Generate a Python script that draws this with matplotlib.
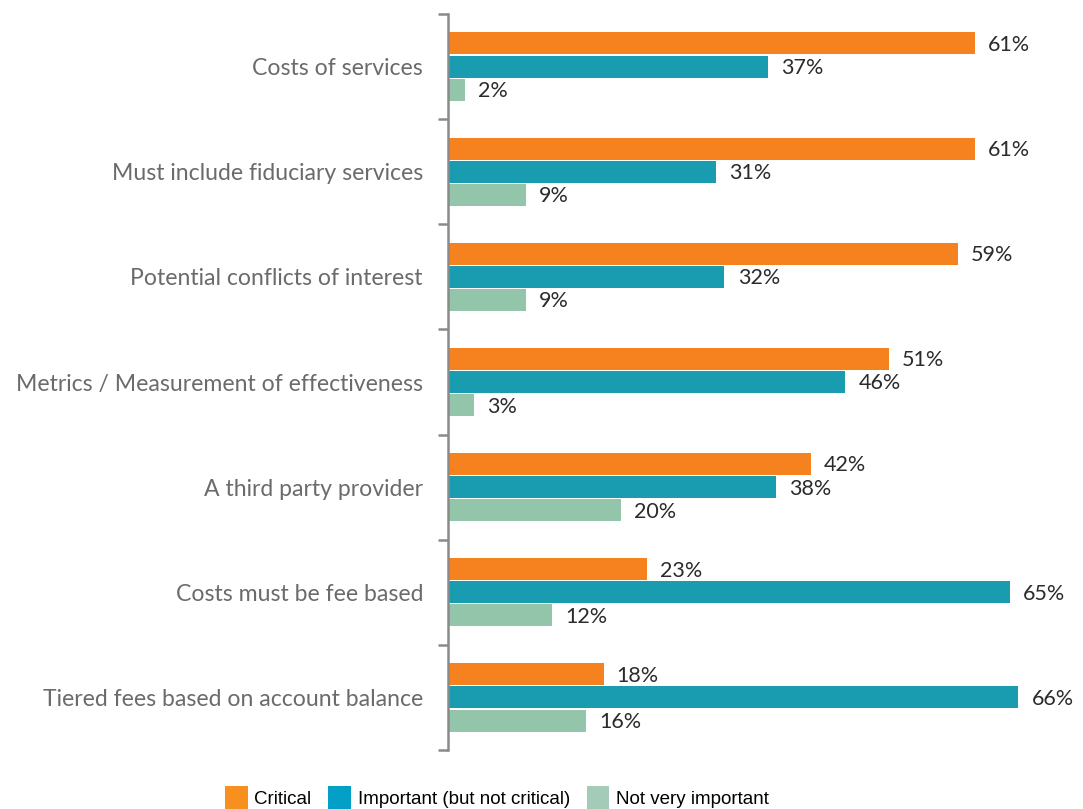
import matplotlib
matplotlib.use("Agg")
import matplotlib.pyplot as plt
from matplotlib.patches import Patch
import numpy as np

categories = [
    "Costs of services",
    "Must include fiduciary services",
    "Potential conflicts of interest",
    "Metrics / Measurement of effectiveness",
    "A third party provider",
    "Costs must be fee based",
    "Tiered fees based on account balance",
]
critical = [61, 61, 59, 51, 42, 23, 18]
important = [37, 31, 32, 46, 38, 65, 66]
not_important = [2, 9, 9, 3, 20, 12, 16]

series_names = ["Critical", "Important (but not critical)", "Not very important"]
bar_colors = ["#F5821F", "#1A9CB0", "#93C5AA"]
legend_colors = ["#F7901E", "#049FC6", "#A3CBB7"]

W, H = 1083, 809
fig = plt.figure(figsize=(W / 100, H / 100), dpi=100)
fig.patch.set_facecolor("white")

ax = fig.add_axes([448 / W, 1 - 750 / H, 1 - 448 / W, (750 - 14) / H])

y = np.arange(len(categories))
offset = 0.22
height = 0.21
series = [critical, important, not_important]
for k, (vals, col) in enumerate(zip(series, bar_colors)):
    pos = y + (k - 1) * offset
    ax.barh(pos, vals, height=height, color=col, edgecolor="none")
    for p, v in zip(pos, vals):
        ax.annotate(f"{v}%", xy=(v, p), xytext=(9.5, -1), textcoords="offset points",
                    va="center", ha="left", fontsize=15.5, family="Lato", color="#2b2b2b")

ax.set_xlim(0, 73.5)
ax.set_ylim(6.5, -0.5)

ax.set_yticks(y)
ax.set_yticklabels(categories, fontsize=16.6, family="Lato", color="#6b6b6b")
ax.set_yticks(np.arange(-0.5, 7.0, 1.0), minor=True)
ax.tick_params(axis="y", which="major", length=0, pad=18)
ax.tick_params(axis="y", which="minor", length=7, width=1.8, color="#8a8a8a", direction="out")
ax.set_xticks([])

for s in ["top", "right", "bottom"]:
    ax.spines[s].set_visible(False)
ax.spines["left"].set_color("#8a8a8a")
ax.spines["left"].set_linewidth(1.8)

handles = [Patch(facecolor=c, edgecolor="none") for c in legend_colors]
fig.legend(handles, series_names, loc="center", bbox_to_anchor=(497 / W, 1 - 798 / H),
           ncol=3, frameon=False, handlelength=1.2, handleheight=1.6, handletextpad=0.35,
           columnspacing=0.9, prop={"family": "Liberation Sans", "size": 13.5})

fig.savefig("out.png", dpi=100, facecolor="white")
